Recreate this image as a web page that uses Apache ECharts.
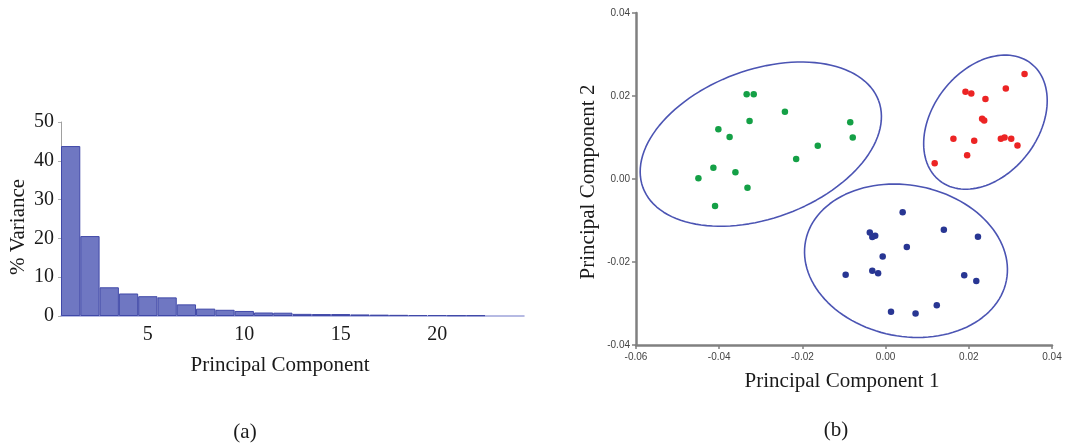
<!DOCTYPE html>
<html>
<head>
<meta charset="utf-8">
<script src="https://cdn.jsdelivr.net/npm/echarts@6/dist/echarts.min.js"></script>
<style>
  html, body { margin: 0; padding: 0; background: #fff; }
  #chart { width: 1066px; height: 445px; }
</style>
</head>
<body>
<div id="chart"></div>
<script>
// ==============================================================
// (a) scree plot data
// ==============================================================
var components = ['1','2','3','4','5','6','7','8','9','10','11','12',
                  '13','14','15','16','17','18','19','20','21','22','23','24'];
var variance = [43.8, 20.6, 7.4, 5.8, 5.1, 4.8, 3.0, 1.9, 1.6, 1.3, 0.9, 0.85,
                0.55, 0.5, 0.5, 0.4, 0.35, 0.3, 0.25, 0.25, 0.2, 0.2];
var componentTicks = ['5', '10', '15', '20'];

// ==============================================================
// (b) score plot data  [PC1, PC2]
// ==============================================================
var greenScores = [
    [-0.0334, 0.0204], [-0.0317, 0.0204], [-0.0242, 0.0162], [-0.0327, 0.0140],
    [-0.0402, 0.0120], [-0.0375, 0.0101], [-0.0163, 0.0080], [-0.0215, 0.0048],
    [-0.0414, 0.0027], [-0.0361, 0.0016], [-0.0450, 0.0002], [-0.0332, -0.0021],
    [-0.0410, -0.0065], [-0.0085, 0.0137], [-0.0079, 0.0100]
];
var redScores = [
    [0.0334, 0.0253], [0.0289, 0.0218], [0.0192, 0.0210], [0.0206, 0.0206],
    [0.0240, 0.0193], [0.0232, 0.0145], [0.0237, 0.0141], [0.0163, 0.0097],
    [0.0213, 0.0092], [0.0277, 0.0097], [0.0286, 0.0100], [0.0302, 0.0097],
    [0.0317, 0.0081], [0.0196, 0.0057], [0.0118, 0.0038]
];
var blueScores = [
    [0.0041, -0.0080], [-0.0038, -0.0129], [-0.0025, -0.0137], [-0.0032, -0.0140],
    [0.0140, -0.0122], [0.0222, -0.0139], [0.0051, -0.0164], [-0.0007, -0.0187],
    [-0.0096, -0.0231], [-0.0032, -0.0221], [-0.0018, -0.0227], [0.0189, -0.0232],
    [0.0218, -0.0246], [0.0123, -0.0304], [0.0013, -0.0320], [0.0072, -0.0324]
];
// confidence ellipses: centre x, centre y, semi-major, semi-minor, tilt (deg)
var greenEllipse = [-0.0300, 0.0084, 0.0302, 0.0179, 20.3];
var redEllipse = [0.0240, 0.0137, 0.0179, 0.0127, 52.4];
var blueEllipse = [0.0049, -0.0197, 0.0246, 0.0182, -11.2];

var pcTicksX = [-0.06, -0.04, -0.02, 0.00, 0.02, 0.04];
var pcTicksY = [-0.04, -0.02, 0.00, 0.02, 0.04];

function ellipsePoints(e) {
    var pts = [];
    var th = e[4] * Math.PI / 180;
    for (var i = 0; i <= 120; i++) {
        var t = i / 120 * Math.PI * 2;
        var u = e[2] * Math.cos(t), v = e[3] * Math.sin(t);
        pts.push([e[0] + u * Math.cos(th) - v * Math.sin(th),
                  e[1] + u * Math.sin(th) + v * Math.cos(th)]);
    }
    return pts;
}

function fmt2(v) {
    if (Math.abs(v) < 1e-9) return '0.00';
    return v.toFixed(2);
}

var serif = '"Liberation Serif", "Times New Roman", serif';
var sans = '"Liberation Sans", Arial, sans-serif';
var ellipseColor = '#4b54b3';

var myChart = echarts.init(document.getElementById('chart'), null, {renderer: 'canvas'});

option = {
    animation: false,
    backgroundColor: '#fff',
    grid: [
        {left: 61, top: 122, width: 463, height: 194},
        {left: 636, top: 13, width: 416, height: 332}
    ],
    xAxis: [
        {
            gridIndex: 0,
            type: 'category',
            data: components,
            boundaryGap: true,
            axisLine: {lineStyle: {color: '#9ea4da', width: 1.5}},
            axisTick: {show: false},
            axisLabel: {
                interval: 0,
                margin: 9,
                fontFamily: serif, fontSize: 20, color: '#1a1a1a',
                formatter: function (v) { return componentTicks.indexOf(v) >= 0 ? v : ''; }
            },
            splitLine: {show: false}
        },
        {
            gridIndex: 1,
            type: 'value',
            min: pcTicksX[0], max: pcTicksX[pcTicksX.length - 1], interval: 0.02,
            axisLine: {onZero: false, lineStyle: {color: '#808080', width: 2.5}},
            axisTick: {show: true, length: 4, lineStyle: {color: '#808080', width: 1.5}},
            axisLabel: {margin: 7, fontFamily: sans, fontSize: 10, color: '#444', formatter: fmt2},
            splitLine: {show: false}
        }
    ],
    yAxis: [
        {
            gridIndex: 0,
            type: 'value',
            min: 0, max: 50, interval: 10,
            axisLine: {show: true, lineStyle: {color: '#a0a0a0', width: 1}},
            axisTick: {show: true, length: 3, lineStyle: {color: '#b0b0b0'}},
            axisLabel: {margin: 7, fontFamily: serif, fontSize: 20, color: '#1a1a1a'},
            splitLine: {show: false}
        },
        {
            gridIndex: 1,
            type: 'value',
            min: pcTicksY[0], max: pcTicksY[pcTicksY.length - 1], interval: 0.02,
            axisLine: {show: true, onZero: false, lineStyle: {color: '#808080', width: 2.5}},
            axisTick: {show: true, length: 4, lineStyle: {color: '#808080', width: 1.5}},
            axisLabel: {margin: 6, fontFamily: sans, fontSize: 10, color: '#444', formatter: fmt2},
            splitLine: {show: false}
        }
    ],
    series: [
        {
            name: '% Variance',
            type: 'bar',
            xAxisIndex: 0, yAxisIndex: 0,
            data: variance,
            barWidth: '100%',
            itemStyle: {color: '#6f77c2', borderColor: '#4049a8', borderWidth: 1}
        },
        {type: 'line', xAxisIndex: 1, yAxisIndex: 1, data: ellipsePoints(greenEllipse),
         showSymbol: false, lineStyle: {color: ellipseColor, width: 1.6}, silent: true},
        {type: 'line', xAxisIndex: 1, yAxisIndex: 1, data: ellipsePoints(redEllipse),
         showSymbol: false, lineStyle: {color: ellipseColor, width: 1.6}, silent: true},
        {type: 'line', xAxisIndex: 1, yAxisIndex: 1, data: ellipsePoints(blueEllipse),
         showSymbol: false, lineStyle: {color: ellipseColor, width: 1.6}, silent: true},
        {type: 'scatter', xAxisIndex: 1, yAxisIndex: 1, data: greenScores,
         symbolSize: 6.5, itemStyle: {color: '#14a046', opacity: 1}, z: 5},
        {type: 'scatter', xAxisIndex: 1, yAxisIndex: 1, data: redScores,
         symbolSize: 6.5, itemStyle: {color: '#ec2424', opacity: 1}, z: 5},
        {type: 'scatter', xAxisIndex: 1, yAxisIndex: 1, data: blueScores,
         symbolSize: 6.5, itemStyle: {color: '#283693', opacity: 1}, z: 5}
    ],
    graphic: [
        {type: 'text', x: 18, y: 227, rotation: Math.PI / 2,
         style: {text: '% Variance', font: '21px ' + serif, fill: '#1a1a1a', align: 'center', verticalAlign: 'middle'}},
        {type: 'text', x: 280, y: 365,
         style: {text: 'Principal Component', font: '21px ' + serif, fill: '#1a1a1a', align: 'center', verticalAlign: 'middle'}},
        {type: 'text', x: 245, y: 432,
         style: {text: '(a)', font: '21px ' + serif, fill: '#1a1a1a', align: 'center', verticalAlign: 'middle'}},
        {type: 'text', x: 588, y: 182, rotation: Math.PI / 2,
         style: {text: 'Principal Component 2', font: '21px ' + serif, fill: '#1a1a1a', align: 'center', verticalAlign: 'middle'}},
        {type: 'text', x: 842, y: 381,
         style: {text: 'Principal Component 1', font: '21px ' + serif, fill: '#1a1a1a', align: 'center', verticalAlign: 'middle'}},
        {type: 'text', x: 836, y: 430,
         style: {text: '(b)', font: '21px ' + serif, fill: '#1a1a1a', align: 'center', verticalAlign: 'middle'}}
    ]
};

myChart.setOption(option, true);
</script>
</body>
</html>
